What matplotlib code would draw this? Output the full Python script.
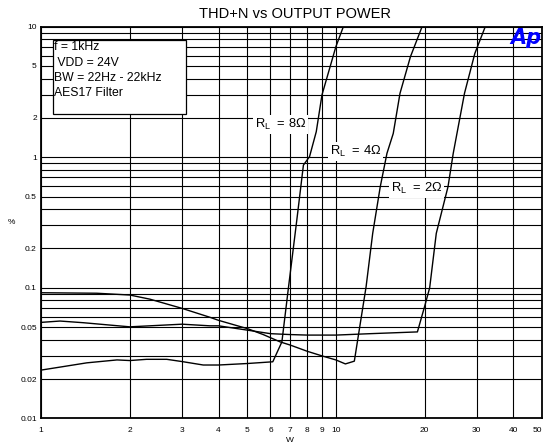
import matplotlib
matplotlib.use("Agg")
import matplotlib.pyplot as plt
from matplotlib.patches import Rectangle
from matplotlib.ticker import FixedLocator, FixedFormatter, NullFormatter

plt.rcParams['font.family'] = ['Liberation Sans', 'DejaVu Sans']

# ---- data ----
w_8 = [1, 1.19, 1.43, 1.81, 2, 2.28, 2.67, 3.01, 3.55, 4, 5.03, 6.11, 6.56,
       6.9, 7.37, 7.76, 8.14, 8.58, 8.97, 10.0, 10.6]
thd_8 = [0.0234, 0.0249, 0.0266, 0.0280, 0.0277, 0.0283, 0.0283, 0.0272, 0.0256,
         0.0256, 0.0263, 0.0271, 0.0385, 0.099, 0.33, 0.87, 1.01, 1.57, 3.0, 7.03, 10]

w_4 = [1, 1.545, 2, 2.34, 3.01, 3.74, 4.0, 5.03, 5.67, 6.47, 7, 8, 9, 10, 10.77,
       11.55, 11.95, 12.66, 13.33, 14.14, 14.9, 15.65, 16.5, 17.9, 19.6]
thd_4 = [0.0916, 0.0908, 0.0880, 0.0818, 0.0695, 0.0594, 0.0563, 0.0485, 0.0438,
         0.0385, 0.0364, 0.0326, 0.0300, 0.0280, 0.0261, 0.0274, 0.0447, 0.1018,
         0.261, 0.594, 1.071, 1.52, 3.09, 5.89, 10]

w_2 = [1, 1.16, 1.39, 2, 3.01, 3.74, 4.0, 5.03, 6, 7, 8, 10, 13.1, 18.9, 20,
       20.8, 21.9, 24.0, 25.0, 27.3, 29.6, 32.1]
thd_2 = [0.0543, 0.0556, 0.0540, 0.0502, 0.0526, 0.0511, 0.0511, 0.0473, 0.0445,
         0.0438, 0.0434, 0.0434, 0.0445, 0.0459, 0.0721, 0.10, 0.261, 0.594,
         1.071, 3.09, 6.25, 10]

x_ticks = [1, 2, 3, 4, 5, 6, 7, 8, 9, 10, 20, 30, 40, 50]
x_labels = ['1', '2', '3', '4', '5', '6', '7', '8', '9', '10', '20', '30', '40', '50']
y_major = [0.01, 0.02, 0.05, 0.1, 0.2, 0.5, 1, 2, 5, 10]
y_labels = ['0.01', '0.02', '0.05', '0.1', '0.2', '0.5', '1', '2', '5', '10']
y_minor = [0.03, 0.04, 0.06, 0.07, 0.08, 0.09, 0.3, 0.4, 0.6, 0.7, 0.8, 0.9,
           3, 4, 6, 7, 8, 9]

info_lines = ['f = 1kHz', ' VDD = 24V', 'BW = 22Hz - 22kHz', 'AES17 Filter']

# ---- figure ----
fig = plt.figure(figsize=(5.44, 4.46), dpi=100)
ax = fig.add_axes([41/544, 1 - 418.3/446, (542 - 41)/544, (418.3 - 26.7)/446])
ax.set_xscale('log')
ax.set_yscale('log')
ax.set_xlim(1, 50)
ax.set_ylim(0.01, 10)

ax.xaxis.set_major_locator(FixedLocator(x_ticks))
ax.xaxis.set_major_formatter(FixedFormatter(x_labels))
ax.xaxis.set_minor_locator(FixedLocator([]))
ax.xaxis.set_minor_formatter(NullFormatter())
ax.yaxis.set_major_locator(FixedLocator(y_major))
ax.yaxis.set_major_formatter(FixedFormatter(y_labels))
ax.yaxis.set_minor_locator(FixedLocator(y_minor))
ax.yaxis.set_minor_formatter(NullFormatter())

ax.tick_params(which='both', length=0)
ax.tick_params(axis='x', pad=6, labelsize=6)
ax.tick_params(axis='y', pad=3, labelsize=6)
ax.grid(which='both', color='black', lw=0.8)
ax.set_axisbelow(True)
for s in ax.spines.values():
    s.set_linewidth(1.3)
    s.set_color('black')

for w, t in [(w_8, thd_8), (w_4, thd_4), (w_2, thd_2)]:
    ax.plot(w, t, color='black', lw=1.0, zorder=4, clip_on=True)

# info box
ax.add_patch(Rectangle((0.024, 0.777), 0.265, 0.189, transform=ax.transAxes,
                       facecolor='white', edgecolor='black', lw=0.9, zorder=3))
ys = [0.947, 0.908, 0.870, 0.830]
for txt, yy in zip(info_lines, ys):
    ax.text(0.026, yy, txt, transform=ax.transAxes, fontsize=8.8, va='center',
            ha='left', zorder=5)

# curve labels
bb = dict(facecolor='white', edgecolor='none', pad=1.5)
ax.text(5.3, 1.78, r'R$_\mathregular{L}$  = 8$\mathregular{\Omega}$', fontsize=9.3,
        va='center', ha='left', bbox=bb, zorder=3)
ax.text(9.55, 1.10, r'R$_\mathregular{L}$  = 4$\mathregular{\Omega}$', fontsize=9.3,
        va='center', ha='left', bbox=bb, zorder=3)
ax.text(15.4, 0.58, r'R$_\mathregular{L}$  = 2$\mathregular{\Omega}$', fontsize=9.3,
        va='center', ha='left', bbox=bb, zorder=3)

# Ap logo
ax.text(0.968, 0.970, 'Ap', transform=ax.transAxes, fontsize=15, color='#0000ff',
        fontweight='heavy', fontstyle='italic', ha='center', va='center', zorder=6,
        family=['DejaVu Sans'])

fig.text(295/544, 1 - 14/446, 'THD+N vs OUTPUT POWER', fontsize=10.5, ha='center',
         va='center')
fig.text(11/544, 1 - 223/446, '%', fontsize=6, ha='center', va='center')
fig.text(290/544, 1 - 441/446, 'W', fontsize=6, ha='center', va='center')

fig.canvas.draw()
ax.get_xticklabels()[-1].set_ha('right')
ax.get_xticklabels()[-1].set_x(50)

fig.savefig('out.png', dpi=100)
